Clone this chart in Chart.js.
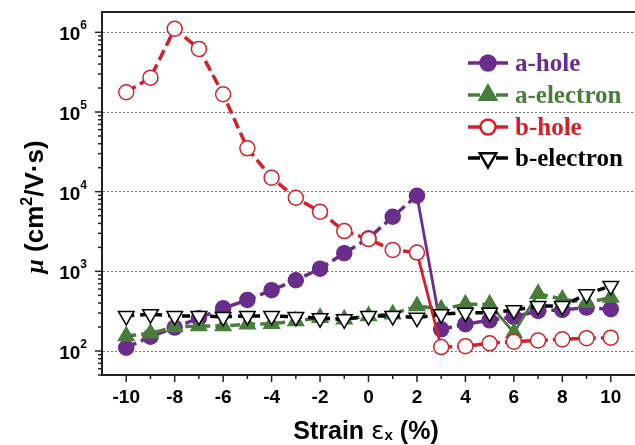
<!DOCTYPE html>
<html>
<head>
<meta charset="utf-8">
<script src="https://cdn.jsdelivr.net/npm/chart.js@4"></script>
<style>
  html, body { margin: 0; padding: 0; background: #fff; }
  #wrap { width: 635px; height: 445px; }
</style>
</head>
<body>
<div id="wrap"><canvas id="mobilityChart" width="635" height="445"></canvas></div>
<script>
// strain values (%)
const strain = [-10, -9, -8, -7, -6, -5, -4, -3, -2, -1, 0, 1, 2, 3, 4, 5, 6, 7, 8, 9, 10];

// mobility (cm^2/V.s)
const aHole = [110, 151, 197, 258, 344, 438, 580, 773, 1080, 1690, 2600, 4850, 8900, 187, 217, 243, 268, 319, 328, 351, 335];
const aElectron = [154, 167, 200, 206, 206, 217, 220, 238, 262, 250, 276, 290, 368, 335, 386, 386, 170, 525, 446, 405, 469];
const bHole = [177000, 270000, 1110000, 620000, 167000, 35000, 15000, 8400, 5600, 3200, 2540, 1860, 1720, 112, 115, 125, 131, 136, 140, 145, 147];
const bElectron = [276, 290, 276, 276, 268, 276, 276, 268, 258, 250, 276, 276, 262, 290, 303, 303, 325, 368, 368, 517, 657];

const yDecades = [2, 3, 4, 5, 6];

const purple = '#6b2d8b';
const green = '#4a7d3c';
const red = '#d5202a';
const black = '#000000';

function pts(vals) {
    return strain.map((x, i) => ({ x: x, y: vals[i] }));
}

// segments drawn as solid lines (index of first point)
function segDash(solid, dash) {
    return ctx => solid.includes(ctx.p0DataIndex) ? [] : dash;
}

const seriesDefs = [
    { label: 'a-hole', data: aHole, color: purple, style: 'circle', fill: purple, radius: 7.5, solid: [12], dash: [11, 5], order: 4 },
    { label: 'a-electron', data: aElectron, color: green, style: 'triangle', fill: green, radius: 9, solid: [15, 16], dash: [10, 5], order: 3 },
    { label: 'b-hole', data: bHole, color: red, style: 'circle', fill: '#ffffff', radius: 7.5, solid: [12], dash: [11, 5], order: 2 },
    { label: 'b-electron', data: bElectron, color: black, style: 'triangle', fill: '#ffffff', radius: 9, rotation: 180, solid: [], dash: [8, 6], order: 1 }
];

const datasets = seriesDefs.map(s => ({
    label: s.label,
    data: pts(s.data),
    borderColor: s.color,
    borderWidth: 3.5,
    borderDash: s.dash,
    segment: {
        borderDash: segDash(s.solid, s.dash),
        borderWidth: ctx => s.solid.includes(ctx.p0DataIndex) ? 2.8 : 3.5
    },
    pointStyle: s.style,
    pointRotation: s.rotation || 0,
    pointRadius: s.radius,
    pointBackgroundColor: s.fill,
    pointBorderColor: s.color,
    pointBorderWidth: 1.5,
    tension: 0,
    clip: false,
    order: s.order
}));

function isDecade(v) {
    const l = Math.log10(v);
    return Math.abs(l - Math.round(l)) < 1e-9;
}

// axis ticks, y labels, frame, titles and legend
const decorPlugin = {
    id: 'decor',
    afterDraw(chart) {
        const ctx = chart.ctx;
        const area = chart.chartArea;
        const xs = chart.scales.x;
        const ys = chart.scales.y;
        ctx.save();

        // top frame line
        ctx.strokeStyle = '#222';
        ctx.lineWidth = 2;
        ctx.beginPath();
        ctx.moveTo(area.left - 1, area.top);
        ctx.lineTo(area.right, area.top);
        ctx.stroke();

        // x tick marks
        ctx.lineWidth = 1.5;
        for (let v = -10; v <= 10; v++) {
            const px = xs.getPixelForValue(v);
            const len = v % 2 === 0 ? 7 : 4;
            ctx.beginPath();
            ctx.moveTo(px, area.bottom);
            ctx.lineTo(px, area.bottom + len);
            ctx.stroke();
        }

        // y tick marks (log)
        for (let d = 1; d <= 6; d++) {
            for (let m = 1; m <= 9; m++) {
                const v = m * Math.pow(10, d);
                if (v < ys.min || v > ys.max) continue;
                const py = ys.getPixelForValue(v);
                const len = m === 1 ? 7 : 4;
                ctx.beginPath();
                ctx.moveTo(area.left, py);
                ctx.lineTo(area.left - len, py);
                ctx.stroke();
            }
        }

        // y tick labels 10^n
        ctx.fillStyle = '#000';
        ctx.textBaseline = 'alphabetic';
        yDecades.forEach(n => {
            const py = ys.getPixelForValue(Math.pow(10, n));
            ctx.font = 'bold 12px "Liberation Sans", Arial, sans-serif';
            ctx.textAlign = 'right';
            const expW = ctx.measureText(String(n)).width;
            ctx.fillText(String(n), 87, py - 3);
            ctx.font = 'bold 19px "Liberation Sans", Arial, sans-serif';
            ctx.fillText('10', 87 - expW, py + 8);
        });

        // x title: Strain εx (%)
        const xParts = [
            { t: 'Strain ', f: 'bold 25px "Liberation Sans", Arial, sans-serif', dy: 0 },
            { t: 'ε', f: '25px "DejaVu Sans", sans-serif', dy: 0 },
            { t: 'x', f: 'bold 15px "Liberation Sans", Arial, sans-serif', dy: 1 },
            { t: ' (%)', f: 'bold 25px "Liberation Sans", Arial, sans-serif', dy: 0 }
        ];
        drawParts(ctx, xParts, 366, 439);

        // y title: μ (cm2/V·s)
        const yParts = [
            { t: 'μ', f: 'italic bold 26px "Liberation Serif", serif', dy: 0 },
            { t: ' (cm', f: 'bold 26px "Liberation Sans", Arial, sans-serif', dy: 0 },
            { t: '2', f: 'bold 16px "Liberation Sans", Arial, sans-serif', dy: -11 },
            { t: '/V·s)', f: 'bold 26px "Liberation Sans", Arial, sans-serif', dy: 0 }
        ];
        ctx.save();
        ctx.translate(43, 207);
        ctx.rotate(-Math.PI / 2);
        drawParts(ctx, yParts, 0, 0);
        ctx.restore();

        // legend
        const legendY = [63, 95, 127, 158];
        seriesDefs.forEach((s, i) => {
            const cy = legendY[i];
            ctx.strokeStyle = s.color;
            ctx.lineWidth = 3.5;
            ctx.setLineDash([]);
            ctx.beginPath();
            ctx.moveTo(468, cy);
            ctx.lineTo(480, cy);
            ctx.moveTo(496, cy);
            ctx.lineTo(508, cy);
            ctx.stroke();
            Chart.helpers.drawPoint(ctx, {
                pointStyle: s.style,
                rotation: s.rotation || 0,
                radius: s.radius - 0.5,
                borderWidth: 1.5
            }, 488, cy);
            ctx.fillStyle = s.fill;
            ctx.fill();
            ctx.lineWidth = 1.5;
            ctx.stroke();
            ctx.fillStyle = s.color;
            ctx.font = 'bold 25px "Liberation Serif", "Times New Roman", serif';
            ctx.textAlign = 'left';
            ctx.textBaseline = 'alphabetic';
            ctx.fillText(s.label, 515, cy + 8);
        });

        ctx.restore();
    }
};

function drawParts(ctx, parts, cx, baseline) {
    let total = 0;
    parts.forEach(p => { ctx.font = p.f; total += ctx.measureText(p.t).width; });
    let x = cx - total / 2;
    ctx.textAlign = 'left';
    ctx.textBaseline = 'alphabetic';
    ctx.fillStyle = '#000';
    parts.forEach(p => {
        ctx.font = p.f;
        ctx.fillText(p.t, x, baseline + p.dy);
        x += ctx.measureText(p.t).width;
    });
}

const mobilityCtx = document.getElementById('mobilityChart').getContext('2d');
const mobilityChart = new Chart(mobilityCtx, {
    type: 'line',
    data: { datasets: datasets },
    options: {
        responsive: false,
        animation: false,
        layout: { autoPadding: false, padding: { left: 0, right: 0, top: 12, bottom: 0 } },
        plugins: {
            legend: { display: false },
            tooltip: { enabled: false }
        },
        scales: {
            x: {
                type: 'linear',
                min: -11,
                max: 11,
                afterFit(scale) {
                    scale.height = 70;
                    scale.paddingLeft = 0;
                    scale.paddingRight = 0;
                },
                ticks: {
                    stepSize: 1,
                    autoSkip: false,
                    maxRotation: 0,
                    padding: 11,
                    color: '#000',
                    font: { family: '"Liberation Sans", Arial, sans-serif', weight: 'bold', size: 19 },
                    callback: v => (v % 2 === 0 && Math.abs(v) <= 10) ? String(v) : ''
                },
                grid: { display: false, drawTicks: false },
                border: { color: '#222', width: 2 }
            },
            y: {
                type: 'logarithmic',
                min: 50,
                max: 1.8e6,
                afterFit(scale) {
                    scale.width = 102;
                    scale.paddingTop = 0;
                    scale.paddingBottom = 0;
                },
                ticks: { display: false },
                grid: {
                    drawTicks: false,
                    lineWidth: 1,
                    color: c => (c.tick && isDecade(c.tick.value) && c.tick.value < 1.8e6) ? '#777' : 'rgba(0,0,0,0)'
                },
                border: { color: '#222', width: 2, dash: [2, 2] }
            }
        }
    },
    plugins: [decorPlugin]
});
</script>
</body>
</html>
